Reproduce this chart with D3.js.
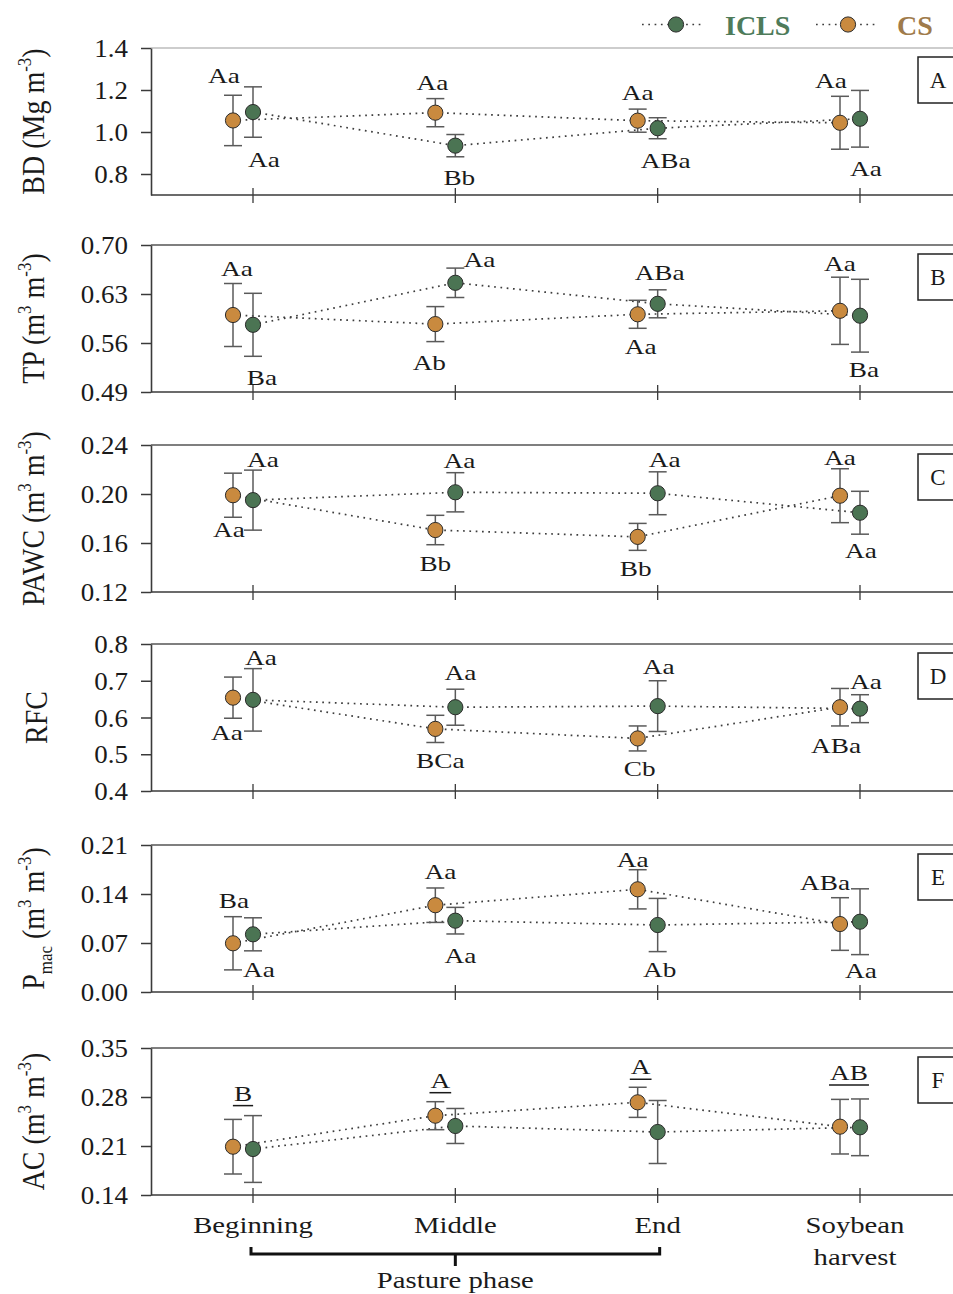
<!DOCTYPE html>
<html>
<head>
<meta charset="utf-8">
<script src="https://cdn.jsdelivr.net/npm/d3@7"></script>
<style>
  body { margin: 0; background: #fff; }
  svg { display: block; }
  text { font-family: "Liberation Serif", "Times New Roman", serif; fill: #1a1a1a; }
</style>
</head>
<body>
<svg id="chart" width="953" height="1294"></svg>
<script>
// ---------- data ----------
const stages = ["Beginning", "Middle", "End", "Soybean harvest"];
const stageLines = [["Beginning"], ["Middle"], ["End"], ["Soybean", "harvest"]];
const seriesNames = ["ICLS", "CS"];

// Bulk density (Mg m-3)
const bdICLS = [1.095, 0.935, 1.018, 1.063];
const bdICLSErr = [0.120, 0.053, 0.050, 0.135];
const bdCS = [1.055, 1.092, 1.054, 1.044];
const bdCSErr = [0.120, 0.067, 0.055, 0.126];
const bdTicks = [0.8, 1.0, 1.2, 1.4];
const bdLabICLS = ["Aa", "Bb", "ABa", "Aa"];
const bdLabCS = ["Aa", "Aa", "Aa", "Aa"];

// Total porosity (m3 m-3)
const tpICLS = [0.586, 0.646, 0.616, 0.599];
const tpICLSErr = [0.045, 0.021, 0.020, 0.052];
const tpCS = [0.600, 0.587, 0.601, 0.606];
const tpCSErr = [0.045, 0.025, 0.020, 0.048];
const tpTicks = [0.49, 0.56, 0.63, 0.70];
const tpLabICLS = ["Ba", "Aa", "ABa", "Ba"];
const tpLabCS = ["Aa", "Ab", "Aa", "Aa"];

// Plant available water content (m3 m-3)
const pawcICLS = [0.195, 0.2014, 0.2006, 0.1847];
const pawcICLSErr = [0.0245, 0.016, 0.0175, 0.0175];
const pawcCS = [0.199, 0.1706, 0.165, 0.1986];
const pawcCSErr = [0.018, 0.012, 0.011, 0.022];
const pawcTicks = [0.12, 0.16, 0.20, 0.24];
const pawcLabICLS = ["Aa", "Aa", "Aa", "Aa"];
const pawcLabCS = ["Aa", "Bb", "Bb", "Aa"];

// Relative field capacity
const rfcICLS = [0.648, 0.628, 0.631, 0.624];
const rfcICLSErr = [0.085, 0.049, 0.069, 0.038];
const rfcCS = [0.654, 0.569, 0.543, 0.628];
const rfcCSErr = [0.056, 0.037, 0.034, 0.051];
const rfcTicks = [0.4, 0.5, 0.6, 0.7, 0.8];
const rfcLabICLS = ["Aa", "Aa", "Aa", "Aa"];
const rfcLabCS = ["Aa", "BCa", "Cb", "ABa"];

// Macroporosity (m3 m-3)
const pmacICLS = [0.0824, 0.1019, 0.0957, 0.1004];
const pmacICLSErr = [0.0236, 0.019, 0.038, 0.047];
const pmacCS = [0.0696, 0.124, 0.1467, 0.0971];
const pmacCSErr = [0.038, 0.0246, 0.028, 0.0376];
const pmacTicks = [0.00, 0.07, 0.14, 0.21];
const pmacLabICLS = ["Aa", "Aa", "Ab", "Aa"];
const pmacLabCS = ["Ba", "Aa", "Aa", "ABa"];

// Air capacity (m3 m-3)
const acICLS = [0.2057, 0.2386, 0.230, 0.2367];
const acICLSErr = [0.0477, 0.025, 0.045, 0.0405];
const acCS = [0.209, 0.2533, 0.2724, 0.2376];
const acCSErr = [0.039, 0.020, 0.0215, 0.039];
const acTicks = [0.14, 0.21, 0.28, 0.35];
const acLabStage = ["B", "A", "A", "AB"];

// ---------- layout ----------
const W = 953, H = 1294;
const plotLeft = 151, plotRight = 975;
const panelTops = [48, 245, 445, 644, 845, 1048];
const panelH = 147;
const csShift = -20;
const col = { ICLS: "#4b7453", CS: "#c98a3f" };
const legendText = { ICLS: "#4e7b5a", CS: "#9f7b4b" };
const axisCol = "#3a3a3a";

// label offsets [side, dx, dy] relative to the end of the error bar
const labPos = {
  A: { ICLS: [["b", 11, 30], ["b", 4, 28], ["b", 8, 29], ["b", 6, 29]],
       CS:   [["t", -9, -12], ["t", -3, -9], ["t", 0, -9], ["t", -9, -8]] },
  B: { ICLS: [["b", 9, 29], ["t", 24, -1], ["t", 2, -10], ["b", 4, 25]],
       CS:   [["t", 4, -8], ["b", -6, 28], ["b", 3, 26], ["t", 0, -6]] },
  C: { ICLS: [["t", 10, -3], ["t", 4, -5], ["t", 7, -5], ["b", 1, 24]],
       CS:   [["b", -4, 20], ["b", 0, 26], ["b", -2, 26], ["t", 0, -4]] },
  D: { ICLS: [["t", 8, -4], ["t", 5, -9], ["t", 1, -7], ["t", 6, -6]],
       CS:   [["b", -6, 22], ["b", 5, 26], ["b", 2, 25], ["b", -4, 27]] },
  E: { ICLS: [["b", 6, 26], ["b", 5, 29], ["b", 2, 25], ["b", 1, 23]],
       CS:   [["t", 1, -9], ["t", 5, -9], ["t", -5, -3], ["t", -15, -8]] }
};
const stageLabPos = [[-10, -15], [-15, -14], [-17, -13], [-11, -19]];

const panels = [
  { key: "A", domain: [0.7, 1.4], ticks: bdTicks, fmt: ".1f",
    ICLS: bdICLS, ICLSErr: bdICLSErr, CS: bdCS, CSErr: bdCSErr,
    labICLS: bdLabICLS, labCS: bdLabCS,
    title: [{ t: "BD (Mg m" }, { t: "-3", s: "sup" }, { t: ")" }] },
  { key: "B", domain: [0.49, 0.70], ticks: tpTicks, fmt: ".2f",
    ICLS: tpICLS, ICLSErr: tpICLSErr, CS: tpCS, CSErr: tpCSErr,
    labICLS: tpLabICLS, labCS: tpLabCS,
    title: [{ t: "TP (m" }, { t: "3", s: "sup" }, { t: " m" }, { t: "-3", s: "sup" }, { t: ")" }] },
  { key: "C", domain: [0.12, 0.24], ticks: pawcTicks, fmt: ".2f",
    ICLS: pawcICLS, ICLSErr: pawcICLSErr, CS: pawcCS, CSErr: pawcCSErr,
    labICLS: pawcLabICLS, labCS: pawcLabCS,
    title: [{ t: "PAWC (m" }, { t: "3", s: "sup" }, { t: " m" }, { t: "-3", s: "sup" }, { t: ")" }] },
  { key: "D", domain: [0.4, 0.8], ticks: rfcTicks, fmt: ".1f",
    ICLS: rfcICLS, ICLSErr: rfcICLSErr, CS: rfcCS, CSErr: rfcCSErr,
    labICLS: rfcLabICLS, labCS: rfcLabCS,
    title: [{ t: "RFC" }], titleX: 47 },
  { key: "E", domain: [0.0, 0.21], ticks: pmacTicks, fmt: ".2f",
    ICLS: pmacICLS, ICLSErr: pmacICLSErr, CS: pmacCS, CSErr: pmacCSErr,
    labICLS: pmacLabICLS, labCS: pmacLabCS,
    title: [{ t: "P" }, { t: "mac", s: "sub" }, { t: " (m" }, { t: "3", s: "sup" }, { t: " m" }, { t: "-3", s: "sup" }, { t: ")" }] },
  { key: "F", domain: [0.14, 0.35], ticks: acTicks, fmt: ".2f",
    ICLS: acICLS, ICLSErr: acICLSErr, CS: acCS, CSErr: acCSErr,
    stageLab: acLabStage,
    title: [{ t: "AC (m" }, { t: "3", s: "sup" }, { t: " m" }, { t: "-3", s: "sup" }, { t: ")" }] }
];

// ---------- drawing ----------
const svg = d3.select("#chart");
svg.append("rect").attr("width", W).attr("height", H).attr("fill", "#fff");

const x = d3.scalePoint().domain(stages).range([253, 860]);
const xs = { ICLS: d => x(d), CS: d => x(d) + csShift };

// text with horizontal stretch
function stretchText(g, str, px, py, size, sx, anchor) {
  return g.append("text")
    .attr("transform", `translate(${px},${py}) scale(${sx},1)`)
    .attr("text-anchor", anchor || "middle")
    .attr("font-size", size)
    .text(str);
}

function addTitle(g, segs, cx, cy) {
  const t = g.append("text")
    .attr("transform", `translate(${cx},${cy}) scale(1.15,1) rotate(-90)`)
    .attr("text-anchor", "middle")
    .attr("font-size", 28);
  let shift = 0;
  segs.forEach(s => {
    const ts = t.append("tspan").text(s.t);
    let target = 0;
    if (s.s === "sup") { target = -11; ts.attr("font-size", 17); }
    if (s.s === "sub") { target = 7; ts.attr("font-size", 17); }
    ts.attr("dy", target - shift);
    shift = target;
  });
}

panels.forEach((p, i) => {
  const top = panelTops[i], bottom = top + panelH;
  const y = d3.scaleLinear().domain(p.domain).range([bottom, top]);
  const g = svg.append("g");

  // frame: top and bottom rules
  g.append("line").attr("x1", plotLeft).attr("x2", plotRight)
    .attr("y1", top).attr("y2", top)
    .attr("stroke", i === 0 ? "#bdbdbd" : "#555").attr("stroke-width", 1.6);
  g.append("line").attr("x1", plotLeft).attr("x2", plotRight)
    .attr("y1", bottom).attr("y2", bottom)
    .attr("stroke", axisCol).attr("stroke-width", 1.6);

  // x ticks crossing the bottom rule
  g.selectAll(".xt").data(stages).join("line")
    .attr("x1", d => x(d)).attr("x2", d => x(d))
    .attr("y1", bottom - 7).attr("y2", bottom + 8)
    .attr("stroke", axisCol).attr("stroke-width", 1.3);

  // y axis
  const yAxis = d3.axisLeft(y).tickValues(p.ticks)
    .tickFormat(d3.format(p.fmt)).tickSize(10).tickSizeOuter(0).tickPadding(0);
  const ag = g.append("g").attr("transform", `translate(${plotLeft},0)`).call(yAxis);
  ag.select(".domain").attr("stroke", axisCol).attr("stroke-width", 1.6);
  ag.selectAll(".tick line").attr("stroke", axisCol).attr("stroke-width", 1.5);
  ag.selectAll(".tick text")
    .attr("x", null).attr("dy", null)
    .attr("transform", "translate(-23,8.5) scale(1.1,1)")
    .attr("text-anchor", "end")
    .attr("font-size", 24.5)
    .attr("font-family", '"Liberation Serif", "Times New Roman", serif')
    .attr("fill", "#1a1a1a");

  // axis title
  addTitle(g, p.title, p.titleX || 44, (top + bottom) / 2);

  // panel letter box
  g.append("rect").attr("x", 918).attr("y", top + 9).attr("width", 60).attr("height", 46)
    .attr("fill", "#fff").attr("stroke", "#222").attr("stroke-width", 1.5);
  g.append("text").attr("x", 938).attr("y", top + 40).attr("text-anchor", "middle")
    .attr("font-size", 23).text(p.key);

  // dotted connecting lines
  ["CS", "ICLS"].forEach(s => {
    const pts = stages.map((st, k) => [xs[s](st), y(p[s][k])]);
    g.append("path").attr("d", d3.line()(pts))
      .attr("fill", "none").attr("stroke", "#3d3d3d").attr("stroke-width", 1.7)
      .attr("stroke-dasharray", "1.7 4.6");
  });

  // error bars and markers
  ["CS", "ICLS"].forEach(s => {
    stages.forEach((st, k) => {
      const cx = xs[s](st), m = p[s][k], e = p[s + "Err"][k];
      const eb = g.append("g").attr("stroke", "#5a5a5a").attr("stroke-width", 1.5);
      eb.append("line").attr("x1", cx).attr("x2", cx).attr("y1", y(m + e)).attr("y2", y(m - e));
      eb.append("line").attr("x1", cx - 9).attr("x2", cx + 9).attr("y1", y(m + e)).attr("y2", y(m + e));
      eb.append("line").attr("x1", cx - 9).attr("x2", cx + 9).attr("y1", y(m - e)).attr("y2", y(m - e));
    });
  });
  ["CS", "ICLS"].forEach(s => {
    g.selectAll(".pt" + s).data(stages).join("circle")
      .attr("cx", d => xs[s](d))
      .attr("cy", (d, k) => y(p[s][k]))
      .attr("r", 7.6)
      .attr("fill", col[s]).attr("stroke", "#2b2b2b").attr("stroke-width", 1);
  });

  // letters of significance
  if (p.labICLS) {
    ["CS", "ICLS"].forEach(s => {
      const labs = s === "CS" ? p.labCS : p.labICLS;
      stages.forEach((st, k) => {
        const [side, dx, dy] = labPos[p.key][s][k];
        const m = p[s][k], e = p[s + "Err"][k];
        const yEnd = side === "t" ? y(m + e) : y(m - e);
        stretchText(g, labs[k], xs[s](st) + dx, yEnd + dy, 21, 1.3);
      });
    });
  }
  if (p.stageLab) {
    stages.forEach((st, k) => {
      const [dx, dy] = stageLabPos[k];
      const topEnd = Math.min(y(p.CS[k] + p.CSErr[k]), y(p.ICLS[k] + p.ICLSErr[k]));
      const t = stretchText(g, p.stageLab[k], x(st) + dx, topEnd + dy, 21, 1.3);
      const wdt = t.node().getComputedTextLength() * 1.3;
      g.append("line")
        .attr("x1", x(st) + dx - wdt / 2 - 1).attr("x2", x(st) + dx + wdt / 2 + 1)
        .attr("y1", topEnd + dy + 5).attr("y2", topEnd + dy + 5)
        .attr("stroke", "#1a1a1a").attr("stroke-width", 1.5);
    });
  }
});

// category labels under the last panel
stages.forEach((st, k) => {
  const lines = stageLines[k];
  lines.forEach((ln, j) => {
    stretchText(svg, ln, x(st) - (lines.length > 1 ? 5 : 0), 1233 + j * 32, 22.6, 1.27);
  });
});

// pasture phase bracket
const bx0 = x(stages[0]) - 2, bx1 = x(stages[2]) + 2, bmid = (x(stages[0]) + x(stages[2])) / 2;
svg.append("path")
  .attr("d", `M${bx0},1247 V1254 H${bx1} V1247 M${bmid},1254 V1266`)
  .attr("fill", "none").attr("stroke", "#111").attr("stroke-width", 3);
stretchText(svg, "Pasture phase", bmid, 1288, 22.6, 1.27);

// legend
const legend = [
  { s: "ICLS", x0: 642, cx: 676, x1: 701, tx: 725 },
  { s: "CS", x0: 816, cx: 848, x1: 876, tx: 897 }
];
legend.forEach(l => {
  svg.append("line").attr("x1", l.x0).attr("x2", l.x1).attr("y1", 24.5).attr("y2", 24.5)
    .attr("stroke", "#3d3d3d").attr("stroke-width", 1.7).attr("stroke-dasharray", "1.7 4.6");
  svg.append("circle").attr("cx", l.cx).attr("cy", 24.5).attr("r", 7.6)
    .attr("fill", col[l.s]).attr("stroke", "#2b2b2b").attr("stroke-width", 1);
  svg.append("text").attr("x", l.tx).attr("y", 35)
    .attr("font-size", 28).attr("font-weight", "bold")
    .style("fill", legendText[l.s]).text(l.s);
});
</script>
</body>
</html>
